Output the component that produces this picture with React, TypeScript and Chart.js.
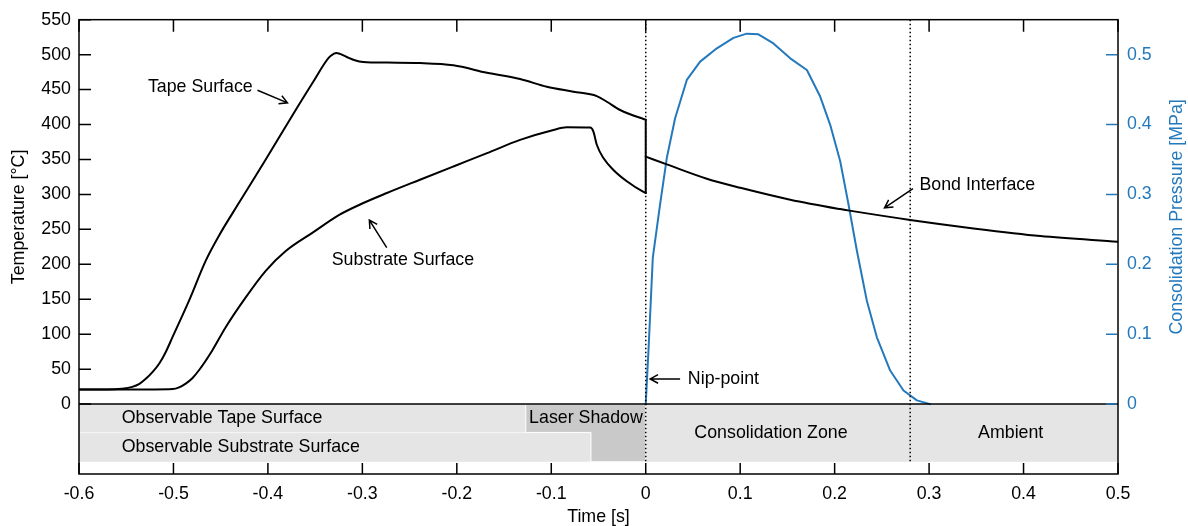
import React, { useEffect, useRef } from 'react';
import { Chart, registerables } from 'chart.js';

Chart.register(...registerables);

// ---------- data ----------
const tapeX = [-0.6, -0.57, -0.555, -0.5436, -0.536, -0.529, -0.522, -0.515, -0.508, -0.501, -0.4835, -0.4659, -0.4518, -0.4306, -0.4023, -0.3741, -0.353, -0.3353, -0.33, -0.3276, -0.3235, -0.3165, -0.308, -0.299, -0.274, -0.239, -0.2036, -0.168, -0.133, -0.1047, -0.0766, -0.0518, -0.0412, -0.0271, -0.0024, 0];
const tapeT = [21, 21, 22, 24.6, 29, 36.5, 46, 58, 75, 95.8, 148, 205, 241, 288, 350, 413, 459, 496, 501.5, 502.5, 501, 496.6, 492, 489.5, 488.6, 488, 484.8, 474, 465, 454, 447, 440.7, 432.6, 420.8, 408, 407];

// vertical drop at the nip-point
const dropX = [0, 0];
const dropT = [407, 302];

const substrateX = [-0.6, -0.52, -0.501, -0.494, -0.487, -0.48, -0.473, -0.4589, -0.4447, -0.4235, -0.4023, -0.3811, -0.353, -0.3236, -0.3024, -0.274, -0.239, -0.2036, -0.168, -0.133, -0.0977, -0.0836, -0.0589, -0.0554, -0.0518, -0.0448, -0.0342, -0.02, -0.0024, 0];
const substrateT = [21, 21, 21.5, 24, 29.4, 37, 48.4, 76.8, 110, 152.7, 190.7, 219, 245, 271.4, 285.6, 302, 321, 340, 359, 378, 392.3, 396, 395.6, 390, 371, 352, 335, 318.8, 303.5, 302];

const bondX = [0, 0.0223, 0.0647, 0.1002, 0.153, 0.2059, 0.2157, 0.28, 0.347, 0.4177, 0.5];
const bondT = [354, 343, 322.5, 309.5, 292.5, 279, 276.8, 263.5, 251.4, 240.5, 232.4];

const pressureX = [0, 0.0029, 0.0075, 0.0152, 0.0223, 0.0311, 0.0435, 0.0576, 0.0753, 0.0929, 0.107, 0.1193, 0.1352, 0.153, 0.1706, 0.1847, 0.1953, 0.2059, 0.2147, 0.2236, 0.2341, 0.2447, 0.2588, 0.2729, 0.2871, 0.3012];
const pressureP = [0, 0.0765, 0.2096, 0.2856, 0.352, 0.409, 0.4638, 0.49, 0.509, 0.524, 0.53, 0.529, 0.516, 0.4947, 0.478, 0.44, 0.3996, 0.3474, 0.2856, 0.219, 0.1478, 0.0955, 0.048, 0.0195, 0.0053, 0];

// tick values
const xTicks = [-0.6, -0.5, -0.4, -0.3, -0.2, -0.1, 0, 0.1, 0.2, 0.3, 0.4, 0.5];
const tempTicks = [0, 50, 100, 150, 200, 250, 300, 350, 400, 450, 500, 550];
const pressureTicks = [0, 0.1, 0.2, 0.3, 0.4, 0.5];

// zone bands (time, temperature units)
const bandStart = [-0.6, -0.6, 0, 0.28];
const bandEnd = [-0.127, -0.058, 0.28, 0.5];
const bandTop = [0, -41.5, 0, 0];
const bandBottom = [-40.5, -82.5, -82.5, -82.5];
const shadowX = [-0.127, 0, 0, -0.058, -0.058, -0.127];
const shadowT = [0, 0, -82.5, -82.5, -40.5, -40.5];

// zone labels
const zoneText = ['Observable Tape Surface', 'Observable Substrate Surface', 'Laser Shadow', 'Consolidation Zone', 'Ambient'];
const zoneX = [-0.5548, -0.5548, -0.0633, 0.1326, 0.3864];
const zoneT = [-20.4, -62, -20.4, -40.8, -40.8];
const zoneAlign = ['left', 'left', 'center', 'center', 'center'];

// dotted markers
const markerX = [0, 0.28];

// annotations
const annText = ['Tape Surface', 'Substrate Surface', 'Nip-point', 'Bond Interface'];
const annX = [-0.527, -0.3324, 0.0446, 0.2898];
const annT = [454, 206, 36, 314];
const arrowFromX = [-0.411, -0.2742, 0.0364, 0.2829];
const arrowFromT = [449, 223.9, 36, 308.4];
const arrowToX = [-0.3793, -0.2926, 0.0047, 0.2528];
const arrowToT = [431, 263.3, 36, 280.8];

const BLUE = '#2479bd';
const FONT = '"Liberation Sans", Arial, sans-serif';
const FS = 17.8;

function drawArrow(ctx: CanvasRenderingContext2D, x1: number, y1: number, x2: number, y2: number) {
  const a = Math.atan2(y2 - y1, x2 - x1);
  const h = 9;
  const w = 0.5;
  ctx.beginPath();
  ctx.moveTo(x1, y1);
  ctx.lineTo(x2, y2);
  ctx.moveTo(x2 - h * Math.cos(a - w), y2 - h * Math.sin(a - w));
  ctx.lineTo(x2, y2);
  ctx.lineTo(x2 - h * Math.cos(a + w), y2 - h * Math.sin(a + w));
  ctx.stroke();
}

const overlay = {
  id: 'overlay',
  beforeDatasetsDraw(chart: any) {
    const { ctx } = chart;
    const x = chart.scales.x;
    const y = chart.scales.y;
    ctx.save();
    ctx.lineWidth = 1;
    ctx.strokeStyle = '#ffffff';
    for (let i = 0; i < bandStart.length; i++) {
      const x0 = x.getPixelForValue(bandStart[i]);
      const x1 = x.getPixelForValue(bandEnd[i]);
      const y0 = y.getPixelForValue(bandTop[i]);
      const y1 = y.getPixelForValue(bandBottom[i]);
      ctx.fillStyle = '#e5e5e5';
      ctx.fillRect(x0, y0, x1 - x0, y1 - y0);
    }
    ctx.beginPath();
    for (let i = 0; i < shadowX.length; i++) {
      const px = x.getPixelForValue(shadowX[i]);
      const py = y.getPixelForValue(shadowT[i]);
      if (i === 0) ctx.moveTo(px, py);
      else ctx.lineTo(px, py);
    }
    ctx.closePath();
    ctx.fillStyle = '#c9c9c9';
    ctx.fill();
    ctx.stroke();
    ctx.restore();
  },
  afterDatasetsDraw(chart: any) {
    const { ctx, chartArea } = chart;
    const x = chart.scales.x;
    const y = chart.scales.y;
    const y1 = chart.scales.y1;
    const { left, right, top, bottom } = chartArea;
    ctx.save();

    // zero line
    ctx.strokeStyle = '#000';
    ctx.lineWidth = 1.5;
    const y0 = y.getPixelForValue(0);
    ctx.beginPath();
    ctx.moveTo(left, y0);
    ctx.lineTo(right, y0);
    ctx.stroke();

    // dotted markers
    ctx.save();
    ctx.setLineDash([1.5, 2.5]);
    ctx.lineWidth = 1.5;
    for (const m of markerX) {
      const px = x.getPixelForValue(m);
      ctx.beginPath();
      ctx.moveTo(px, top);
      ctx.lineTo(px, y.getPixelForValue(-82.5));
      ctx.stroke();
    }
    ctx.restore();

    // frame
    ctx.lineWidth = 1.5;
    ctx.strokeStyle = '#000';
    ctx.strokeRect(left, top, right - left, bottom - top);

    // x ticks (top & bottom, inward)
    ctx.beginPath();
    for (const t of xTicks) {
      const px = x.getPixelForValue(t);
      ctx.moveTo(px, bottom);
      ctx.lineTo(px, bottom - 11);
      ctx.moveTo(px, top);
      ctx.lineTo(px, top + 12);
    }
    // left ticks
    for (const t of tempTicks) {
      const py = y.getPixelForValue(t);
      ctx.moveTo(left, py);
      ctx.lineTo(left + 12, py);
    }
    ctx.stroke();
    // right ticks (blue)
    ctx.strokeStyle = BLUE;
    ctx.beginPath();
    for (const t of pressureTicks) {
      const py = y1.getPixelForValue(t);
      ctx.moveTo(right - 1, py);
      ctx.lineTo(right - 12, py);
    }
    ctx.stroke();

    // zone labels
    ctx.fillStyle = '#000';
    ctx.font = `${FS}px ${FONT}`;
    ctx.textBaseline = 'middle';
    for (let i = 0; i < zoneText.length; i++) {
      ctx.textAlign = zoneAlign[i] as CanvasTextAlign;
      ctx.fillText(zoneText[i], x.getPixelForValue(zoneX[i]), y.getPixelForValue(zoneT[i]));
    }

    // annotations
    ctx.textAlign = 'left';
    ctx.strokeStyle = '#000';
    ctx.lineWidth = 1.5;
    for (let i = 0; i < annText.length; i++) {
      ctx.fillText(annText[i], x.getPixelForValue(annX[i]), y.getPixelForValue(annT[i]));
      drawArrow(
        ctx,
        x.getPixelForValue(arrowFromX[i]),
        y.getPixelForValue(arrowFromT[i]),
        x.getPixelForValue(arrowToX[i]),
        y.getPixelForValue(arrowToT[i])
      );
    }

    // axis titles
    const midY = (y.getPixelForValue(0) + y.getPixelForValue(550)) / 2 + 5;
    ctx.textAlign = 'center';
    ctx.fillStyle = '#000';
    ctx.fillText('Time [s]', (left + right) / 2, bottom + 43);
    ctx.save();
    ctx.translate(left - 60, midY);
    ctx.rotate(-Math.PI / 2);
    ctx.fillText('Temperature [°C]', 0, 0);
    ctx.restore();
    ctx.save();
    ctx.fillStyle = BLUE;
    ctx.translate(right + 59, midY);
    ctx.rotate(-Math.PI / 2);
    ctx.fillText('Consolidation Pressure [MPa]', 0, 0);
    ctx.restore();

    ctx.restore();
  },
};

function pts(xs: number[], ys: number[]) {
  return xs.map((v, i) => ({ x: v, y: ys[i] }));
}

export default function App() {
  const ref = useRef<HTMLCanvasElement | null>(null);
  useEffect(() => {
    if (!ref.current) return;
    const common = { pointRadius: 0, borderWidth: 2, fill: false, borderJoinStyle: 'round' as const, borderCapStyle: 'round' as const };
    const smooth = { ...common, cubicInterpolationMode: 'monotone' as const };
    const chart = new Chart(ref.current, {
      type: 'line',
      data: {
        datasets: [
          { ...smooth, label: 'Tape Surface', data: pts(tapeX, tapeT), borderColor: '#000', yAxisID: 'y' },
          { ...common, tension: 0, label: 'Nip drop', data: pts(dropX, dropT), borderColor: '#000', yAxisID: 'y' },
          { ...smooth, label: 'Substrate Surface', data: pts(substrateX, substrateT), borderColor: '#000', yAxisID: 'y' },
          { ...smooth, label: 'Bond Interface', data: pts(bondX, bondT), borderColor: '#000', yAxisID: 'y' },
          { ...common, tension: 0, label: 'Consolidation Pressure', data: pts(pressureX, pressureP), borderColor: BLUE, yAxisID: 'y1' },
        ],
      },
      options: {
        responsive: false,
        animation: false,
        events: [],
        layout: { padding: { top: 17, left: 0, right: 0, bottom: 0 } },
        plugins: { legend: { display: false }, tooltip: { enabled: false }, title: { display: false } },
        scales: {
          x: {
            type: 'linear',
            min: -0.6,
            max: 0.5,
            border: { display: false },
            grid: { display: false, drawTicks: false },
            ticks: {
              stepSize: 0.1,
              padding: 9,
              color: '#000',
              font: { family: FONT, size: FS },
              callback: (v: any) => String(Math.round(Number(v) * 10) / 10 + 0),
            },
            afterFit: (s: any) => { s.height = 52; },
          },
          y: {
            type: 'linear',
            position: 'left',
            min: -100,
            max: 550,
            border: { display: false },
            grid: { display: false, drawTicks: false },
            ticks: {
              stepSize: 50,
              padding: 8,
              color: '#000',
              font: { family: FONT, size: FS },
              callback: (v: any) => (Number(v) < 0 ? '' : String(v)),
            },
            afterFit: (s: any) => { s.width = 79; },
          },
          y1: {
            type: 'linear',
            position: 'right',
            min: -0.1,
            max: 0.55,
            border: { display: false },
            grid: { display: false, drawTicks: false },
            ticks: {
              stepSize: 0.1,
              includeBounds: false,
              padding: 9,
              color: BLUE,
              font: { family: FONT, size: FS },
              callback: (v: any) => {
                const n = Math.round(Number(v) * 10) / 10 + 0;
                return n < 0 || n > 0.5 ? '' : String(n);
              },
            },
            afterFit: (s: any) => { s.width = 70; },
          },
        },
      },
      plugins: [overlay],
    });
    return () => chart.destroy();
  }, []);
  return (
    <div style={{ position: 'fixed', left: 0, top: 0, width: 1188, height: 526, background: '#fff' }}>
      <canvas ref={ref} width={1188} height={526} style={{ display: 'block' }} />
    </div>
  );
}
